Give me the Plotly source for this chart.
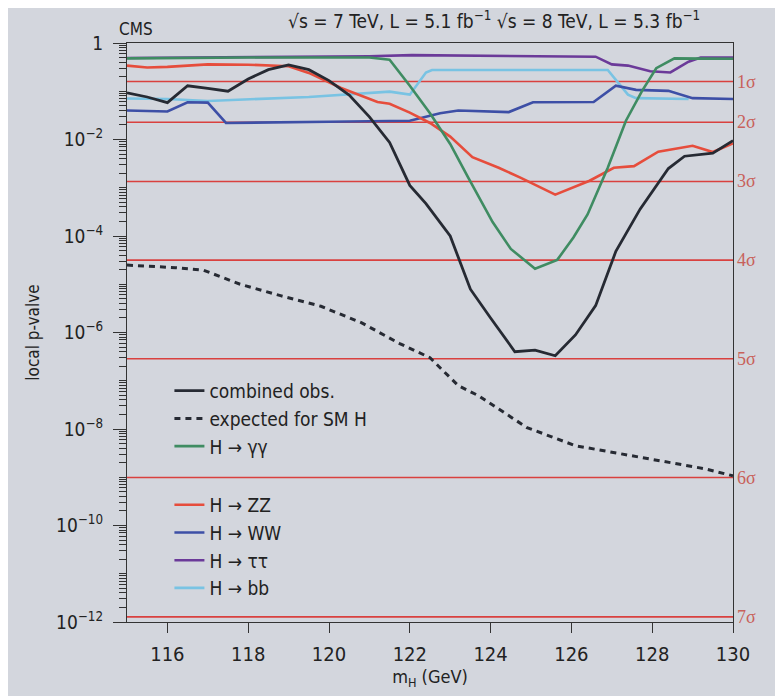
import numpy as np
import plotly.graph_objects as go

# ---------------- data ----------------
mh_comb = [115, 115.5, 116, 116.5, 117, 117.5, 118, 118.5, 119, 119.5, 120, 120.5, 121, 121.5,
           122, 122.4, 123, 123.5, 124, 124.6, 125.1, 125.6, 126.1, 126.6, 127.1, 127.7, 128.4,
           128.8, 129.5, 130]
p_comb = [9.3e-2, 7.6e-2, 5.8e-2, 0.13, 0.115, 0.10, 0.18, 0.28, 0.35, 0.28, 0.166, 0.083, 0.0295,
          8.7e-3, 1.12e-3, 4.7e-4, 1.0e-4, 7.9e-6, 2.0e-6, 4.0e-7, 4.3e-7, 3.3e-7, 8.9e-7, 3.6e-6,
          4.8e-5, 3.6e-4, 2.5e-3, 4.5e-3, 5.2e-3, 9.5e-3]

mh_exp = [115, 116.2, 116.9, 117.8, 118.8, 119.8, 120.8, 121.75, 122.5, 123.2, 123.7, 124.9,
          126.1, 127.7, 129.3, 130]
p_exp = [2.5e-5, 2.2e-5, 1.95e-5, 1.0e-5, 5.8e-6, 3.5e-6, 1.6e-6, 5.9e-7, 3.0e-7, 7.9e-8, 4.9e-8,
         1.07e-8, 4.5e-9, 2.6e-9, 1.5e-9, 1.07e-9]

mh_gg = [115, 116, 117, 118, 119, 120, 121, 121.5, 122, 122.5, 123, 123.45, 124.05, 124.5, 125.1,
         125.65, 126.05, 126.4, 126.9, 127.35, 127.75, 128.1, 128.55, 130]
p_gg = [0.48, 0.49, 0.49, 0.5, 0.5, 0.5, 0.5, 0.45, 0.13, 0.035, 8.1e-3, 1.6e-3, 1.95e-4, 5.4e-5,
        2.1e-5, 3.2e-5, 9.3e-5, 2.8e-4, 2.6e-3, 0.0245, 0.102, 0.30, 0.48, 0.47]

mh_zz = [115, 115.5, 116, 117, 118, 119, 119.5, 120.3, 121.2, 121.5, 122, 122.5, 123, 123.55,
         124.2, 124.75, 125.6, 126.45, 127.05, 127.55, 128.15, 129.0, 129.5, 130]
p_zz = [0.34, 0.31, 0.32, 0.36, 0.355, 0.33, 0.24, 0.117, 0.06, 0.055, 0.036, 0.022, 0.0115,
        4.3e-3, 2.6e-3, 1.6e-3, 7.2e-4, 1.4e-3, 2.6e-3, 2.8e-3, 5.6e-3, 7.4e-3, 5.5e-3, 8.3e-3]

mh_ww = [115, 116, 116.5, 117, 117.45, 118, 120, 122, 122.75, 123.2, 124.45, 125.05, 126.55,
         127.1, 127.6, 128.4, 129.0, 130]
p_ww = [0.040, 0.038, 0.059, 0.058, 0.022, 0.0224, 0.0234, 0.0245, 0.035, 0.040, 0.037, 0.059,
        0.060, 0.13, 0.107, 0.102, 0.072, 0.069]

mh_tt = [115, 121, 122.05, 126.6, 127.0, 127.4, 127.95, 128.45, 128.9, 129.2, 130]
p_tt = [0.49, 0.53, 0.56, 0.52, 0.36, 0.34, 0.26, 0.245, 0.41, 0.5, 0.5]

mh_bb = [115, 116, 117, 118, 119.5, 121.5, 122.0, 122.4, 122.55, 126.9, 127.4, 127.6, 128.9]
p_bb = [0.071, 0.069, 0.063, 0.068, 0.076, 0.098, 0.085, 0.245, 0.275, 0.275, 0.085, 0.072, 0.069]

sigma_labels = ["1σ", "2σ", "3σ", "4σ", "5σ", "6σ", "7σ"]
sigma_p = [0.1587, 0.02275, 1.35e-3, 3.167e-5, 2.867e-7, 9.866e-10, 1.28e-12]

x_ticks = [116, 118, 120, 122, 124, 126, 128, 130]
y_major = [1, 1e-2, 1e-4, 1e-6, 1e-8, 1e-10, 1e-12]
y_major_text = ["1", "10<sup>−2</sup>", "10<sup>−4</sup>", "10<sup>−6</sup>",
                "10<sup>−8</sup>", "10<sup>−10</sup>", "10<sup>−12</sup>"]
y_minor = [k * 10.0 ** e for e in range(-12, 0) for k in range(2, 11) if k * 10.0 ** e < 1]

# ---------------- styling ----------------
BG = "#d3d6dd"
FONT = "DejaVu Sans Condensed, Liberation Sans Narrow, Liberation Sans, Arial, sans-serif"
SIG_LINE = "#d9413f"
SIG_TEXT = "#c8615a"

fig = go.Figure()

# sigma reference lines
x_range = [115, 130]
for lab, p in zip(sigma_labels, sigma_p):
    fig.add_trace(go.Scatter(x=x_range, y=[p, p], mode="lines",
                             line=dict(color=SIG_LINE, width=1.6),
                             showlegend=False, hoverinfo="skip"))

# channels (drawn back to front), legend order via legendrank
fig.add_trace(go.Scatter(x=mh_bb, y=p_bb, mode="lines", name="H → bb",
                         line=dict(color="#79c3e3", width=2.6),
                         legendgroup="g2", legendrank=7))
fig.add_trace(go.Scatter(x=mh_tt, y=p_tt, mode="lines", name="H → ττ",
                         line=dict(color="#6b3a99", width=2.6),
                         legendgroup="g2", legendrank=6))
fig.add_trace(go.Scatter(x=mh_ww, y=p_ww, mode="lines", name="H → WW",
                         line=dict(color="#3d4fa6", width=2.6),
                         legendgroup="g2", legendrank=5))
fig.add_trace(go.Scatter(x=mh_zz, y=p_zz, mode="lines", name="H → ZZ",
                         line=dict(color="#e64d3c", width=2.6),
                         legendgroup="g2", legendrank=4))
fig.add_trace(go.Scatter(x=mh_gg, y=p_gg, mode="lines", name="H → γγ",
                         line=dict(color="#3f8c62", width=2.6),
                         legendgroup="g1", legendrank=3))
fig.add_trace(go.Scatter(x=mh_exp, y=p_exp, mode="lines", name="expected for SM H",
                         line=dict(color="#262a33", width=3, dash="6px,5px"),
                         legendgroup="g1", legendrank=2))
fig.add_trace(go.Scatter(x=mh_comb, y=p_comb, mode="lines", name="combined obs.",
                         line=dict(color="#262a33", width=2.8),
                         legendgroup="g1", legendrank=1))

# sigma labels at the right edge
for lab, p in zip(sigma_labels, sigma_p):
    fig.add_annotation(x=1.003, xref="paper", y=np.log10(p), yref="y",
                       text=lab, showarrow=False, xanchor="left", yanchor="middle",
                       font=dict(family="Liberation Serif, DejaVu Serif, serif",
                                 size=18, color=SIG_TEXT))

fig.add_annotation(x=-0.016, xref="paper", y=1.003, yref="paper", yanchor="bottom",
                   xanchor="left", text="CMS", showarrow=False,
                   font=dict(family=FONT, size=17, color="#222"))
fig.add_annotation(x=0.606, xref="paper", y=1.04, yref="paper", yanchor="middle",
                   xanchor="center",
                   text="√s = 7 TeV, L = 5.1 fb<sup>−1</sup> √s = 8 TeV, L = 5.3 fb<sup>−1</sup>",
                   showarrow=False, font=dict(family=FONT, size=19, color="#222"))

fig.update_layout(
    width=783, height=696,
    margin=dict(l=119, r=58, t=35, b=82),
    paper_bgcolor=BG, plot_bgcolor=BG,
    font=dict(family=FONT, size=19, color="#222"),
    legend=dict(x=0.07, y=0.432, xanchor="left", yanchor="top",
                bgcolor="rgba(0,0,0,0)", traceorder="grouped",
                tracegroupgap=31, font=dict(family=FONT, size=19, color="#222")),
    showlegend=True,
)

fig.update_xaxes(range=x_range, tickvals=x_ticks, ticks="outside", ticklen=10,
                 tickwidth=1.2, tickcolor="#333", showline=True, linecolor="#333",
                 linewidth=1.3, mirror=True, showgrid=False, zeroline=False,
                 ticklabelstandoff=4, tickfont=dict(size=20),
                 title=dict(text="m<sub>H</sub> (GeV)", standoff=4,
                            font=dict(family=FONT, size=18)))
fig.update_yaxes(type="log", range=[-12, 0], tickmode="array", tickvals=y_major,
                 ticktext=y_major_text, ticks="outside", ticklen=13, tickwidth=1.3,
                 tickcolor="#333", showline=True, linecolor="#333", linewidth=1.3,
                 mirror=True, showgrid=False, zeroline=False, ticklabelstandoff=6,
                 tickfont=dict(size=19),
                 minor=dict(tickmode="array", tickvals=y_minor,
                            ticks="outside", ticklen=7, tickwidth=1, tickcolor="#333",
                            showgrid=False),
                 title=dict(text="local p-valve", standoff=12,
                            font=dict(family=FONT, size=17)))

fig.write_html("out.html")
